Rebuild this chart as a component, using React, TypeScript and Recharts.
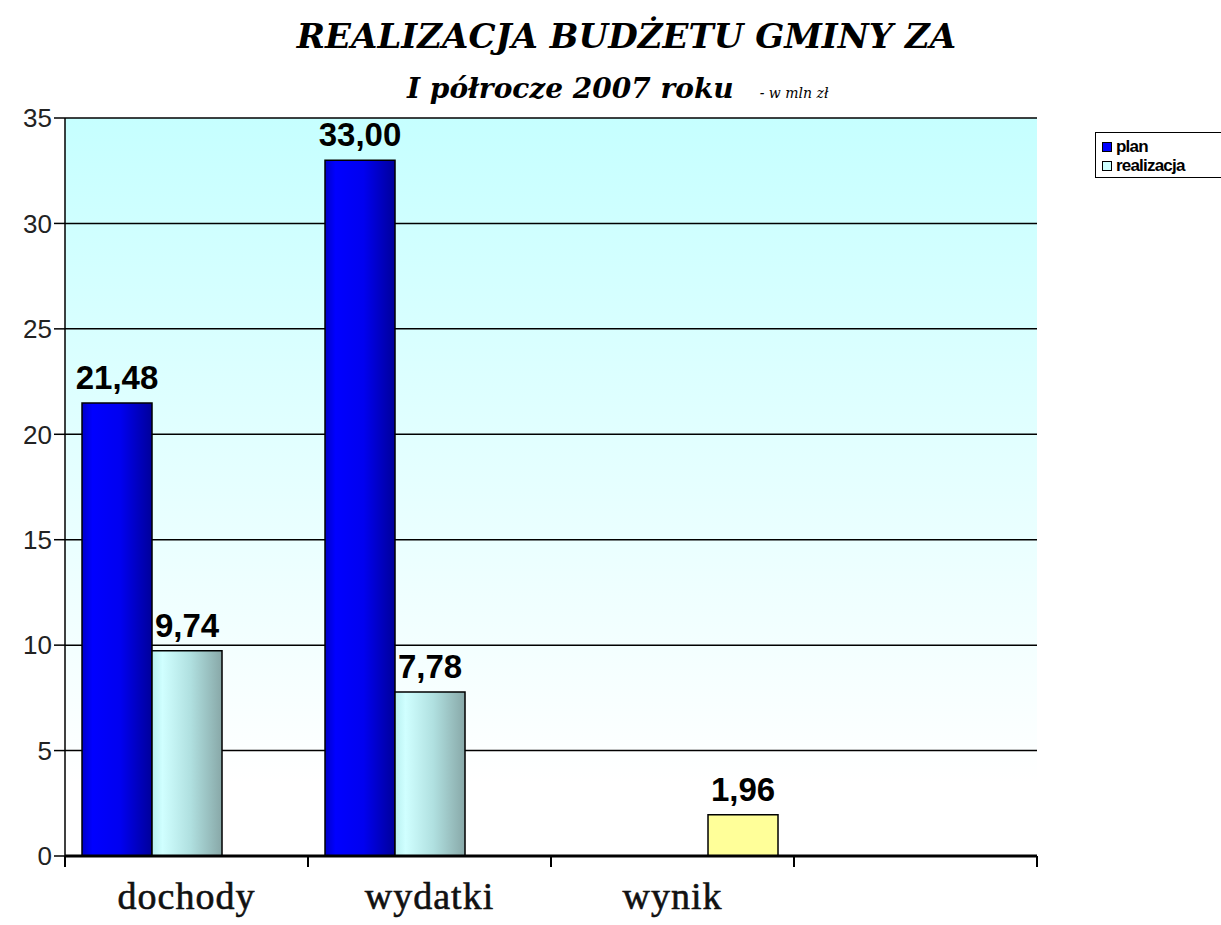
import React from "react";
import {
  BarChart,
  Bar,
  XAxis,
  YAxis,
  CartesianGrid,
  LabelList,
} from "recharts";

const categories = ["dochody", "wydatki", "wynik", ""];
const planValues = [21.48, 33.0, null, null];
const realizacjaValues = [9.74, 7.78, null, null];
const wynikValues = [null, null, 1.96, null];
const yTicks = [0, 5, 10, 15, 20, 25, 30, 35];

const data = categories.map((name, i) => ({
  name,
  plan: planValues[i],
  realizacja: realizacjaValues[i],
  wynik: wynikValues[i],
}));

const PLOT_LEFT = 65;
const PLOT_RIGHT = 1037;
const PLOT_TOP = 118;
const PLOT_BOTTOM = 856;
const BAND = (PLOT_RIGHT - PLOT_LEFT) / categories.length;

const fmt = (v: any) =>
  v === null || v === undefined ? "" : Number(v).toFixed(2).replace(".", ",");

const XTick = (props: any) => {
  const { x, payload, index } = props;
  const last = index === categories.length - 1;
  return (
    <g>
      <line x1={x - BAND / 2} x2={x - BAND / 2} y1={PLOT_BOTTOM} y2={PLOT_BOTTOM + 11} stroke="#000" strokeWidth={2} />
      {last && (
        <line x1={x + BAND / 2} x2={x + BAND / 2} y1={PLOT_BOTTOM} y2={PLOT_BOTTOM + 11} stroke="#000" strokeWidth={2} />
      )}
      <text
        x={x}
        y={PLOT_BOTTOM + 53}
        textAnchor="middle"
        fontFamily="'Liberation Serif', 'Times New Roman', serif"
        fontSize={38}
        letterSpacing={1}
        stroke="#111"
        strokeWidth={0.6}
        fill="#111"
      >
        {payload.value}
      </text>
    </g>
  );
};

const labelProps = {
  position: "top" as const,
  offset: 14,
  formatter: fmt,
  fill: "#000",
  fontSize: 33,
  fontWeight: 700,
  fontFamily: "'Liberation Sans', Arial, sans-serif",
};

export default function App() {
  return (
    <div
      style={{
        position: "absolute",
        left: 0,
        top: 0,
        width: 1221,
        height: 925,
        overflow: "hidden",
        background: "#fff",
      }}
    >
      <div
        style={{
          position: "absolute",
          top: 16,
          left: 0,
          width: 1221,
          textAlign: "center",
          fontFamily: "'DejaVu Serif', serif",
          fontStyle: "italic",
          fontWeight: 700,
          fontSize: 34,
          color: "#000",
          paddingLeft: 32,
          boxSizing: "border-box",
        }}
      >
        REALIZACJA BUDŻETU GMINY ZA
      </div>
      <div
        style={{
          position: "absolute",
          top: 72,
          left: 407,
          whiteSpace: "nowrap",
          fontFamily: "'DejaVu Serif', serif",
          fontStyle: "italic",
          fontWeight: 700,
          fontSize: 28,
          color: "#000",
        }}
      >
        I półrocze 2007 roku
        <span style={{ fontSize: 14, fontWeight: 400, marginLeft: 26 }}>- w mln zł</span>
      </div>

      <div
        style={{
          position: "absolute",
          left: 1095,
          top: 132,
          width: 150,
          height: 46,
          border: "1px solid #000",
          background: "#fff",
          fontFamily: "'Liberation Sans', Arial, sans-serif",
          fontWeight: 700,
          fontSize: 17,
          letterSpacing: -0.8,
          lineHeight: "19px",
          padding: "4px 6px",
          boxSizing: "border-box",
        }}
      >
        <div style={{ display: "flex", alignItems: "center" }}>
          <span style={{ width: 8, height: 8, background: "#0000ff", border: "1px solid #000", marginRight: 4 }} />
          plan
        </div>
        <div style={{ display: "flex", alignItems: "center" }}>
          <span style={{ width: 8, height: 8, background: "#ccffff", border: "1px solid #000", marginRight: 4 }} />
          realizacja
        </div>
      </div>

      <div style={{ position: "absolute", left: 0, top: 0 }}>
        <BarChart
          width={1221}
          height={925}
          data={data}
          margin={{ top: PLOT_TOP, right: 1221 - PLOT_RIGHT, bottom: 0, left: 5 }}
          barGap={0}
          barCategoryGap="7%"
        >
          <defs>
            <linearGradient id="bg" x1="0" y1="0" x2="0" y2="1">
              <stop offset="0%" stopColor="#c6ffff" />
              <stop offset="90%" stopColor="#ffffff" />
              <stop offset="100%" stopColor="#ffffff" />
            </linearGradient>
            <linearGradient id="planFill" x1="0" y1="0" x2="1" y2="0">
              <stop offset="0%" stopColor="#0000c8" />
              <stop offset="15%" stopColor="#0000ff" />
              <stop offset="55%" stopColor="#0000f0" />
              <stop offset="100%" stopColor="#00009a" />
            </linearGradient>
            <linearGradient id="realFill" x1="0" y1="0" x2="1" y2="0">
              <stop offset="0%" stopColor="#b8f0f0" />
              <stop offset="15%" stopColor="#d0ffff" />
              <stop offset="55%" stopColor="#b0e0e0" />
              <stop offset="100%" stopColor="#88a8a8" />
            </linearGradient>
          </defs>
          <CartesianGrid
            vertical={false}
            stroke="#000"
            strokeWidth={1.5}
            fill="url(#bg)"
            fillOpacity={1}
          />
          <XAxis
            dataKey="name"
            interval={0}
            height={925 - PLOT_BOTTOM}
            tick={<XTick />}
            tickLine={false}
            axisLine={{ stroke: "#000", strokeWidth: 3 }}
          />
          <YAxis
            domain={[0, 35]}
            ticks={yTicks}
            width={PLOT_LEFT - 5}
            tickSize={11}
            tickLine={{ stroke: "#000", strokeWidth: 1.5 }}
            axisLine={{ stroke: "#000", strokeWidth: 1.5 }}
            tick={{
              fill: "#222",
              fontSize: 26,
              fontFamily: "'Liberation Sans', Arial, sans-serif",
            }}
            tickMargin={2}
          />
          <YAxis
            yAxisId="r"
            orientation="right"
            width={0}
            tick={false}
            tickLine={false}
            axisLine={{ stroke: "#000", strokeWidth: 1.5 }}
          />
          <Bar dataKey="plan" fill="url(#planFill)" stroke="#000" strokeWidth={1.5} isAnimationActive={false}>
            <LabelList dataKey="plan" {...labelProps} />
          </Bar>
          <Bar dataKey="realizacja" fill="url(#realFill)" stroke="#000" strokeWidth={1.5} isAnimationActive={false}>
            <LabelList dataKey="realizacja" {...labelProps} />
          </Bar>
          <Bar dataKey="wynik" fill="#ffff99" stroke="#000" strokeWidth={1.5} isAnimationActive={false}>
            <LabelList dataKey="wynik" {...labelProps} />
          </Bar>
        </BarChart>
      </div>
    </div>
  );
}
